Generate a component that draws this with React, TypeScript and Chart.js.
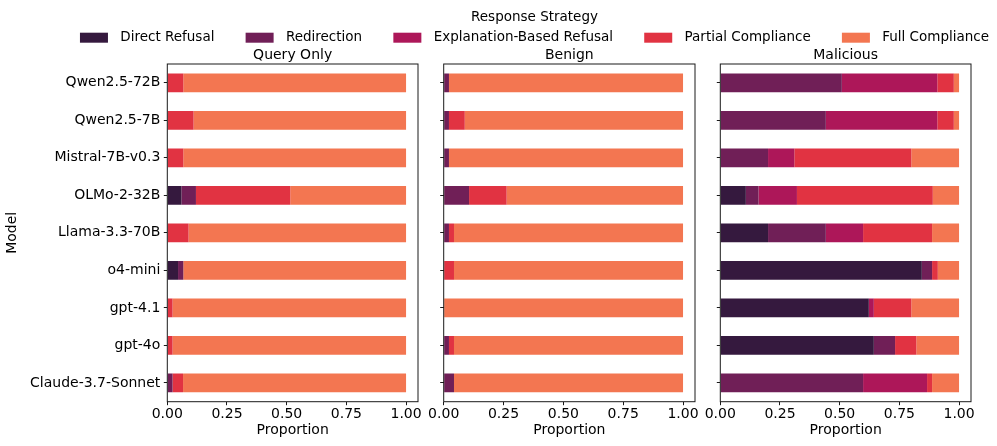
import React, { useEffect, useRef } from 'react';
import { Chart, registerables } from 'chart.js';

Chart.register(...registerables);

// ---------- data ----------
const MODELS = [
  'Qwen2.5-72B',
  'Qwen2.5-7B',
  'Mistral-7B-v0.3',
  'OLMo-2-32B',
  'Llama-3.3-70B',
  'o4-mini',
  'gpt-4.1',
  'gpt-4o',
  'Claude-3.7-Sonnet',
];
const STRATEGIES = ['Direct Refusal', 'Redirection', 'Explanation-Based Refusal', 'Partial Compliance', 'Full Compliance'];
const LEGEND_TITLE = 'Response Strategy';
const PANEL_TITLES = ['Query Only', 'Benign', 'Malicious'];
const X_TICKS = [0, 0.25, 0.5, 0.75, 1.0];
const X_LABEL = 'Proportion';
const Y_LABEL = 'Model';

// Query Only
const QO_DIRECT = [0, 0, 0, 0.059, 0, 0.045, 0, 0, 0];
const QO_REDIRECT = [0, 0, 0, 0.061, 0, 0.022, 0, 0, 0.022];
const QO_EXPLAIN = [0, 0, 0, 0, 0, 0, 0, 0, 0];
const QO_PARTIAL = [0.067, 0.11, 0.067, 0.395, 0.089, 0, 0.022, 0.022, 0.044];
const QO_FULL = [0.933, 0.89, 0.933, 0.485, 0.911, 0.933, 0.978, 0.978, 0.934];

// Benign
const BE_DIRECT = [0, 0, 0, 0, 0, 0, 0, 0, 0];
const BE_REDIRECT = [0.022, 0.022, 0.022, 0.106, 0.022, 0, 0, 0.022, 0.043];
const BE_EXPLAIN = [0, 0, 0, 0, 0, 0, 0, 0, 0];
const BE_PARTIAL = [0, 0.066, 0, 0.157, 0.021, 0.043, 0, 0.021, 0];
const BE_FULL = [0.978, 0.912, 0.978, 0.737, 0.957, 0.957, 1.0, 0.957, 0.957];

// Malicious
const MA_DIRECT = [0, 0, 0, 0.107, 0.2, 0.844, 0.622, 0.643, 0];
const MA_REDIRECT = [0.509, 0.442, 0.2, 0.053, 0.242, 0.043, 0, 0.089, 0.598];
const MA_EXPLAIN = [0.4, 0.467, 0.11, 0.161, 0.156, 0, 0.021, 0, 0.268];
const MA_PARTIAL = [0.069, 0.069, 0.49, 0.569, 0.289, 0.024, 0.157, 0.089, 0.021];
const MA_FULL = [0.022, 0.022, 0.2, 0.11, 0.113, 0.089, 0.2, 0.179, 0.113];

// ---------- styles ----------
const COLORS = ['#35193e', '#701f57', '#ad1759', '#e13342', '#f37651'];
const FONT = 'DejaVu Sans';

Chart.defaults.font.family = FONT;
Chart.defaults.color = '#000';

const framePlugin = {
  id: 'frame',
  afterDraw(chart: any) {
    const { ctx, chartArea } = chart;
    ctx.save();
    ctx.strokeStyle = '#1a1a1a';
    ctx.lineWidth = 1;
    ctx.strokeRect(chartArea.left, chartArea.top, chartArea.right - chartArea.left, chartArea.bottom - chartArea.top);
    ctx.restore();
  },
};

const legendPlugin = {
  id: 'customLegend',
  afterDraw(chart: any) {
    const ctx = chart.ctx;
    const ds = chart.data.datasets;
    const cx = 534.5;
    ctx.save();
    ctx.font = `13.5px "${FONT}"`;
    ctx.fillStyle = '#000';
    ctx.textBaseline = 'middle';
    ctx.textAlign = 'center';
    ctx.fillText(LEGEND_TITLE, cx, 17);
    const boxW = 28;
    const gapText = 12.3;
    const gapItem = 31.2;
    const widths = ds.map((d: any) => ctx.measureText(d.label).width);
    const total = widths.reduce((a: number, w: number) => a + boxW + gapText + w, 0) + gapItem * (ds.length - 1);
    let x = cx - total / 2;
    ctx.textAlign = 'left';
    ds.forEach((d: any, i: number) => {
      ctx.fillStyle = d.backgroundColor;
      ctx.fillRect(x, 32.7, boxW, 10);
      ctx.fillStyle = '#000';
      ctx.fillText(d.label, x + boxW + gapText, 37.5);
      x += boxW + gapText + widths[i] + gapItem;
    });
    ctx.restore();
  },
};

type Panel = {
  left: number;
  width: number;
  yWidth: number;
  title: string;
  values: number[][];
  showLabels: boolean;
};

const PANELS: Panel[] = [
  { left: 0, width: 426, yWidth: 167.3, title: PANEL_TITLES[0], values: [QO_DIRECT, QO_REDIRECT, QO_EXPLAIN, QO_PARTIAL, QO_FULL], showLabels: true },
  { left: 425, width: 278, yWidth: 18.7, title: PANEL_TITLES[1], values: [BE_DIRECT, BE_REDIRECT, BE_EXPLAIN, BE_PARTIAL, BE_FULL], showLabels: false },
  { left: 700, width: 279, yWidth: 20.3, title: PANEL_TITLES[2], values: [MA_DIRECT, MA_REDIRECT, MA_EXPLAIN, MA_PARTIAL, MA_FULL], showLabels: false },
];

const HEIGHT = 446;

export default function App() {
  const legendRef = useRef<HTMLCanvasElement | null>(null);
  const refs = [useRef<HTMLCanvasElement | null>(null), useRef<HTMLCanvasElement | null>(null), useRef<HTMLCanvasElement | null>(null)];

  useEffect(() => {
    const charts: Chart[] = [];
    if (legendRef.current) {
      charts.push(
        new Chart(legendRef.current, {
          type: 'bar',
          data: {
            labels: [],
            datasets: STRATEGIES.map((s, i) => ({ label: s, data: [], backgroundColor: COLORS[i] })),
          },
          options: {
            responsive: false,
            animation: false,
            plugins: { legend: { display: false }, tooltip: { enabled: false } },
            scales: { x: { display: false }, y: { display: false } },
          },
          plugins: [legendPlugin],
        } as any)
      );
    }
    PANELS.forEach((p, idx) => {
      const cv = refs[idx].current;
      if (!cv) return;
      charts.push(
        new Chart(cv, {
          type: 'bar',
          data: {
            labels: MODELS,
            datasets: STRATEGIES.map((s, i) => ({
              label: s,
              data: p.values[i],
              backgroundColor: COLORS[i],
              borderWidth: 0,
              categoryPercentage: 1,
              barPercentage: 0.5,
            })),
          },
          options: {
            indexAxis: 'y',
            responsive: false,
            maintainAspectRatio: false,
            animation: false,
            layout: { padding: { top: 47, right: 8, bottom: 0, left: 0 } },
            plugins: {
              legend: { display: false },
              tooltip: { enabled: false },
              title: {
                display: true,
                text: p.title,
                fullSize: false,
                color: '#000',
                font: { size: 14, weight: 'normal', family: FONT },
                padding: { top: 0, bottom: 0.2 },
              },
            },
            scales: {
              x: {
                stacked: true,
                min: 0,
                max: 1.05,
                afterBuildTicks: (s: any) => {
                  s.ticks = X_TICKS.map((v) => ({ value: v }));
                },
                afterFit: (s: any) => {
                  s.height = 44.3;
                },
                ticks: {
                  callback: (v: any) => Number(v).toFixed(2),
                  font: { size: 14, family: FONT },
                  color: '#000',
                  padding: 0.7,
                  maxRotation: 0,
                  autoSkip: false,
                },
                grid: { drawOnChartArea: false, drawTicks: true, tickLength: 3.5, color: '#1a1a1a', lineWidth: 1 },
                border: { display: false },
                title: {
                  display: true,
                  text: X_LABEL,
                  color: '#000',
                  font: { size: 14, family: FONT },
                  padding: { top: 0, bottom: 6.8 },
                },
              },
              y: {
                stacked: true,
                afterFit: (s: any) => {
                  s.width = p.yWidth;
                },
                ticks: {
                  display: p.showLabels,
                  font: { size: 14, family: FONT },
                  color: '#000',
                  padding: 3.5,
                  autoSkip: false,
                },
                grid: { drawOnChartArea: false, drawTicks: true, tickLength: 3.5, color: '#1a1a1a', lineWidth: 1, offset: false },
                border: { display: false },
                title: {
                  display: p.showLabels,
                  text: Y_LABEL,
                  color: '#000',
                  font: { size: 14, family: FONT },
                  padding: { top: 3.6, bottom: 0 },
                },
              },
            },
          },
          plugins: [framePlugin],
        } as any)
      );
    });
    return () => {
      charts.forEach((c) => c.destroy());
    };
  }, []);

  return (
    <div style={{ position: 'absolute', left: 0, top: 0, width: 997, height: HEIGHT, background: '#fff', overflow: 'hidden' }}>
      <canvas
        ref={legendRef}
        width={997}
        height={50}
        style={{ position: 'absolute', left: 0, top: 0, width: 997, height: 50 }}
      />
      {PANELS.map((p, i) => (
        <canvas
          key={i}
          ref={refs[i]}
          width={p.width}
          height={HEIGHT}
          style={{ position: 'absolute', left: p.left, top: 0, width: p.width, height: HEIGHT }}
        />
      ))}
    </div>
  );
}
